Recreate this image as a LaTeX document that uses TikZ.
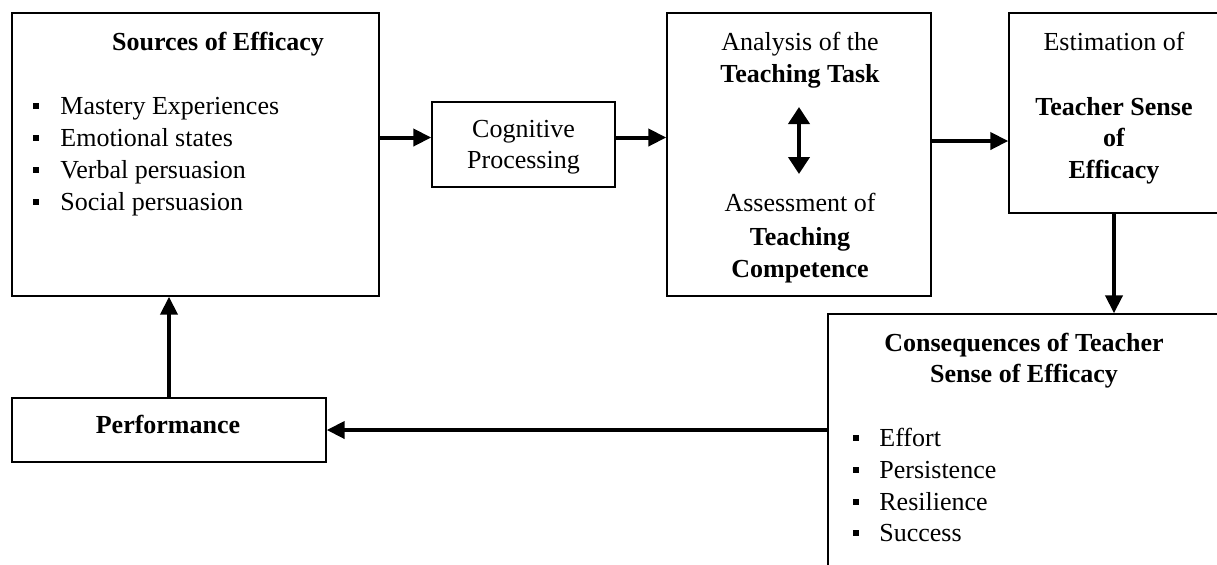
\documentclass[tikz,border=0pt]{standalone}
\usepackage{fontspec}
\setmainfont{Liberation Serif}
\usetikzlibrary{arrows.meta,fit}
\newcommand\bsq{\rule[2.6pt]{3pt}{3pt}}
\begin{document}
\begin{tikzpicture}[x=0.5pt,y=-0.5pt,
  box/.style={draw=black,line width=0.7pt,inner sep=0pt},
  arr/.style={line width=2pt,-{Triangle[length=9pt,width=8.5pt]}},
  dbl/.style={line width=2pt,{Triangle[length=8.5pt,width=10.5pt]}-{Triangle[length=8.5pt,width=10.5pt]}},
  txt/.style={font=\fontsize{13}{16}\selectfont,inner sep=0pt,anchor=base},
  btxt/.style={txt,font=\fontsize{13}{16}\selectfont\bfseries},
  ltxt/.style={txt,anchor=base west},
]
\useasboundingbox (0,0) rectangle (1217,564);
\clip (0,0) rectangle (1217,564);
\fill[white] (0,0) rectangle (1217,564);

% boxes
\node[box, fit={(12,13) (379,296)}] (src) {};
\node[box, fit={(432,102) (615,187)}] (cog) {};
\node[box, fit={(667,13) (931,296)}] (ana) {};
\node[box, fit={(1009,13) (1240,213)}] (est) {};
\node[box, fit={(12,398) (326,462)}] (perf) {};
\node[box, fit={(828,314) (1240,620)}] (cons) {};

% Sources of Efficacy
\node[btxt] (srct) at (218,50) {Sources of Efficacy};
\foreach \t/\y [count=\i] in {Mastery Experiences/114, Emotional states/146, Verbal persuasion/178, Social persuasion/210} {
  \node[ltxt] (sb\i) at (33,\y) {\bsq};
  \node[ltxt] (s\i) at (60,\y) {\t};
}

% Cognitive Processing
\node[txt] (cog1) at (523.5,137) {Cognitive};
\node[txt] (cog2) at (523.5,168) {Processing};

% Analysis
\node[txt] (an1) at (800,50) {Analysis of the};
\node[btxt] (an2) at (800,82) {Teaching Task};
\node[txt] (an3) at (800,211) {Assessment of};
\node[btxt] (an4) at (800,245) {Teaching};
\node[btxt] (an5) at (800,277) {Competence};
\coordinate (d1) at (799,107);
\coordinate (d2) at (799,174);
\draw[dbl] (d1) -- (d2);

% Estimation
\node[txt] (es1) at (1114,50) {Estimation of};
\node[btxt] (es2) at (1114,115) {Teacher Sense};
\node[btxt] (es3) at (1114,146) {of};
\node[btxt] (es4) at (1114,178) {Efficacy};

% Consequences
\node[btxt] (co1) at (1024,351) {Consequences of Teacher};
\node[btxt] (co2) at (1024,382) {Sense of Efficacy};
\foreach \t/\y [count=\i] in {Effort/446, Persistence/478, Resilience/510, Success/541} {
  \node[ltxt] (cb\i) at (853,\y) {\bsq};
  \node[ltxt] (c\i) at (879,\y) {\t};
}

% Performance
\node[btxt] (pf) at (168,433) {Performance};

% connectors
\path (cog.west) ++(0,-7) coordinate (cogin);
\path (cog.east) ++(0,-7) coordinate (cogout);
\path (est.west) ++(0,28) coordinate (estin);
\path (est.south) ++(-10.5,0) coordinate (estout);
\draw[arr] (src.east |- cogin) -- (cogin);
\draw[arr] (cogout) -- (ana.west |- cogout);
\draw[arr] (ana.east |- estin) -- (estin);
\draw[arr] (estout) -- (estout |- cons.north);
\draw[arr] (cons.west |- perf.east) -- (perf.east);
\draw[arr] (perf.north) -- (perf.north |- src.south);
\end{tikzpicture}
\end{document}
